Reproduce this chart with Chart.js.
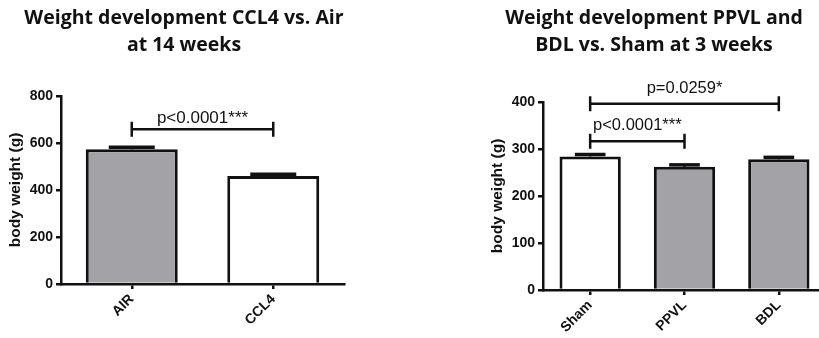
<!DOCTYPE html>
<html><head><meta charset="utf-8">
<script src="https://cdn.jsdelivr.net/npm/chart.js@4/dist/chart.umd.min.js"></script>
<style>
html,body{margin:0;padding:0;background:#fff;width:819px;height:338px;overflow:hidden;position:relative}
canvas{position:absolute;top:0}
#c1{left:0}
#c2{left:410px}
</style></head><body>
<canvas id="c1" width="368" height="338"></canvas>
<canvas id="c2" width="486" height="338"></canvas>
<script>
// ---- Left panel data ----
const leftTitle = ['Weight development CCL4 vs. Air', 'at 14 weeks'];
const leftCategories = ['AIR', 'CCL4'];
const leftMeans = [573, 459];
const leftSems = [8, 8];
const leftTicks = [0, 200, 400, 600, 800];
const leftSigPairs = [[0, 1]];
const leftSigLevels = [658];
const leftSigLabels = ['p<0.0001***'];

// ---- Right panel data ----
const rightTitle = ['Weight development PPVL and', 'BDL vs. Sham at 3 weeks'];
const rightCategories = ['Sham', 'PPVL', 'BDL'];
const rightMeans = [284, 262, 278];
const rightSems = [4, 4, 4];
const rightTicks = [0, 100, 200, 300, 400];
const rightSigPairs = [[0, 2], [0, 1]];
const rightSigLevels = [396, 316];
const rightSigLabels = ['p=0.0259*', 'p<0.0001***'];

const yTitle = 'body weight (g)';
const GRAY = '#a3a3a7';
const WHITE = '#ffffff';
const leftColors = [GRAY, WHITE];
const rightColors = [WHITE, GRAY, GRAY];
const INK = '#111111';
const AXFONT = "'Liberation Sans', Arial, sans-serif";

const errSigPlugin = {
  id: 'errSig',
  afterLayout(chart, args, opts) {
    const tb = chart.titleBlock;
    if (tb && opts.titleShift) { tb.left += opts.titleShift; tb.right += opts.titleShift; }
  },
  afterDatasetsDraw(chart, args, opts) {
    const ctx = chart.ctx;
    const xs = chart.scales.x, ys = chart.scales.y;
    const meta = chart.getDatasetMeta(0);
    ctx.save();
    ctx.strokeStyle = INK;
    ctx.lineCap = 'butt';
    opts.sems.forEach((s, i) => {
      const bar = meta.data[i];
      const cx = bar.x;
      const yMean = ys.getPixelForValue(opts.means[i]);
      const yTop = ys.getPixelForValue(opts.means[i] + s);
      const hw = bar.width * 0.25;
      ctx.lineWidth = 3;
      ctx.beginPath(); ctx.moveTo(cx, yMean); ctx.lineTo(cx, yTop); ctx.stroke();
      ctx.lineWidth = 3.5;
      ctx.beginPath(); ctx.moveTo(cx - hw, yTop); ctx.lineTo(cx + hw, yTop); ctx.stroke();
    });
    opts.pairs.forEach((p, k) => {
      const x1 = xs.getPixelForValue(p[0]);
      const x2 = xs.getPixelForValue(p[1]);
      const yy = ys.getPixelForValue(opts.levels[k]);
      ctx.lineWidth = 2.5;
      ctx.beginPath();
      ctx.moveTo(x1, yy); ctx.lineTo(x2, yy);
      ctx.moveTo(x1, yy - 7.5); ctx.lineTo(x1, yy + 7.5);
      ctx.moveTo(x2, yy - 7.5); ctx.lineTo(x2, yy + 7.5);
      ctx.stroke();
      ctx.font = opts.font;
      ctx.fillStyle = INK;
      ctx.textAlign = 'center';
      ctx.textBaseline = 'alphabetic';
      ctx.fillText(opts.labels[k], (x1 + x2) / 2, yy - opts.gap);
    });
    ctx.restore();
  }
};

function build(canvasId, cfg) {
  const ticks = cfg.ticks;
  return new Chart(document.getElementById(canvasId), {
    type: 'bar',
    data: {
      labels: cfg.categories,
      datasets: [{
        data: cfg.means,
        backgroundColor: cfg.colors,
        borderColor: INK,
        borderWidth: 3,
        borderSkipped: 'start',
        categoryPercentage: 1,
        barPercentage: 0.65
      }]
    },
    options: {
      responsive: false,
      animation: false,
      devicePixelRatio: 1,
      layout: { padding: { left: cfg.padLeft, right: cfg.padRight, top: 0, bottom: 0 } },
      plugins: {
        legend: { display: false },
        tooltip: { enabled: false },
        title: {
          display: true,
          text: cfg.title,
          color: INK,
          font: { family: "'Open Sans', Lato, sans-serif", weight: 'bold', size: 19.5, lineHeight: 1.38 },
          padding: { top: 5, bottom: cfg.titleBottom }
        },
        errSig: {
          means: cfg.means, sems: cfg.sems,
          pairs: cfg.pairs, levels: cfg.levels, labels: cfg.sigLabels,
          font: cfg.pFont + "px 'Liberation Sans', Arial, sans-serif",
          gap: cfg.gap,
          titleShift: cfg.titleShift
        }
      },
      scales: {
        x: {
          offset: true,
          grid: { display: true, drawOnChartArea: false, drawTicks: true, tickLength: 5, offset: false, color: INK, lineWidth: 2.5, tickWidth: 2.5, tickColor: INK },
          border: { display: true, color: INK, width: 2.5 },
          ticks: { color: INK, font: { family: AXFONT, weight: 'bold', size: 14 }, minRotation: 45, maxRotation: 45, padding: 2, autoSkip: false },
          afterFit: (s) => { s.height = cfg.xHeight; }
        },
        y: {
          min: ticks[0],
          max: ticks[ticks.length - 1],
          grid: { display: true, drawOnChartArea: false, drawTicks: true, tickLength: 5, color: INK, lineWidth: 2.5, tickWidth: 2.5, tickColor: INK },
          border: { display: true, color: INK, width: 2.5 },
          ticks: { stepSize: ticks[1] - ticks[0], color: INK, font: { family: AXFONT, weight: 'bold', size: 14 }, padding: 3 },
          title: { display: true, text: yTitle, color: INK, font: { family: AXFONT, weight: 'bold', size: 15.5 }, padding: { top: 6, bottom: 4 } },
          afterFit: (s) => { s.width = 61; }
        }
      }
    },
    plugins: [errSigPlugin]
  });
}

build('c1', {
  categories: leftCategories, means: leftMeans, sems: leftSems, colors: leftColors,
  ticks: leftTicks, title: leftTitle, pairs: leftSigPairs, levels: leftSigLevels, sigLabels: leftSigLabels,
  padLeft: 0, padRight: 24, titleBottom: 37, xHeight: 54, gap: 6, pFont: 17, titleShift: 12
});
build('c2', {
  categories: rightCategories, means: rightMeans, sems: rightSems, colors: rightColors,
  ticks: rightTicks, title: rightTitle, pairs: rightSigPairs, levels: rightSigLevels, sigLabels: rightSigLabels,
  padLeft: 72, padRight: 70, titleBottom: 43, xHeight: 48, gap: 11, pFont: 16.5, titleShift: 0
});
</script>
</body></html>
